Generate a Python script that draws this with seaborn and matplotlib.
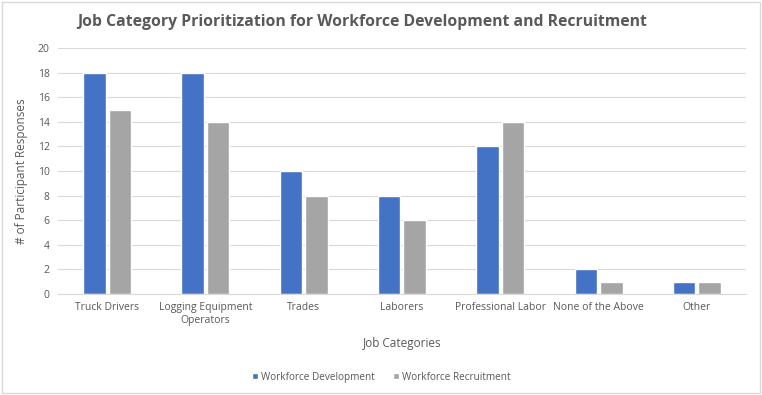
import pandas as pd
import matplotlib.pyplot as plt
import seaborn as sns
from matplotlib.patches import Rectangle

categories = ['Truck Drivers', 'Logging Equipment\nOperators', 'Trades', 'Laborers',
              'Professional Labor', 'None of the Above', 'Other']
development = [18, 18, 10, 8, 12, 2, 1]
recruitment = [15, 14, 8, 6, 14, 1, 1]
series_names = ['Workforce Development', 'Workforce Recruitment']

df = pd.DataFrame({
    'Category': categories * 2,
    'Responses': development + recruitment,
    'Series': [series_names[0]] * len(categories) + [series_names[1]] * len(categories),
})

sns.set_style('white')
plt.rcParams['font.family'] = ['Open Sans', 'DejaVu Sans']
text_col = '#595959'

fig = plt.figure(figsize=(7.62, 3.95), dpi=100)
ax = fig.add_axes([0.076, 0.256, 0.903, 0.622])

sns.barplot(data=df, x='Category', y='Responses', hue='Series',
            palette=['#4472C4', '#A5A5A5'], width=0.52, gap=0.12,
            saturation=1, ax=ax, legend=True)

ax.set_ylim(0, 20)
ax.set_yticks(range(0, 21, 2))
ax.set_xlim(-0.5, len(categories) - 0.5)
ax.grid(axis='y', color='#D9D9D9', linewidth=0.8)
ax.set_axisbelow(True)
for s in ['top', 'right', 'left']:
    ax.spines[s].set_visible(False)
ax.spines['bottom'].set_color('#D9D9D9')
ax.tick_params(axis='both', length=0, colors=text_col, labelsize=7.5, pad=6)

ax.set_xlabel('Job Categories', color=text_col, fontsize=8.5, labelpad=8)
ax.set_ylabel('# of Participant Responses', color=text_col, fontsize=8.5, labelpad=7)
fig.suptitle('Job Category Prioritization for Workforce Development and Recruitment',
             x=0.475, y=0.965, fontsize=11.3, fontweight='bold', color=text_col)

ax.legend(loc='upper center', bbox_to_anchor=(0.47, -0.28), ncol=2, frameon=False,
          fontsize=7.2, labelcolor=text_col, handlelength=0.6, handleheight=0.6,
          handletextpad=0.3, columnspacing=1.8)

fig.patches.append(Rectangle((0.003, 0.005), 0.994, 0.99, transform=fig.transFigure,
                             fill=False, edgecolor='#D9D9D9', linewidth=1))

fig.savefig('out.png', dpi=100)
